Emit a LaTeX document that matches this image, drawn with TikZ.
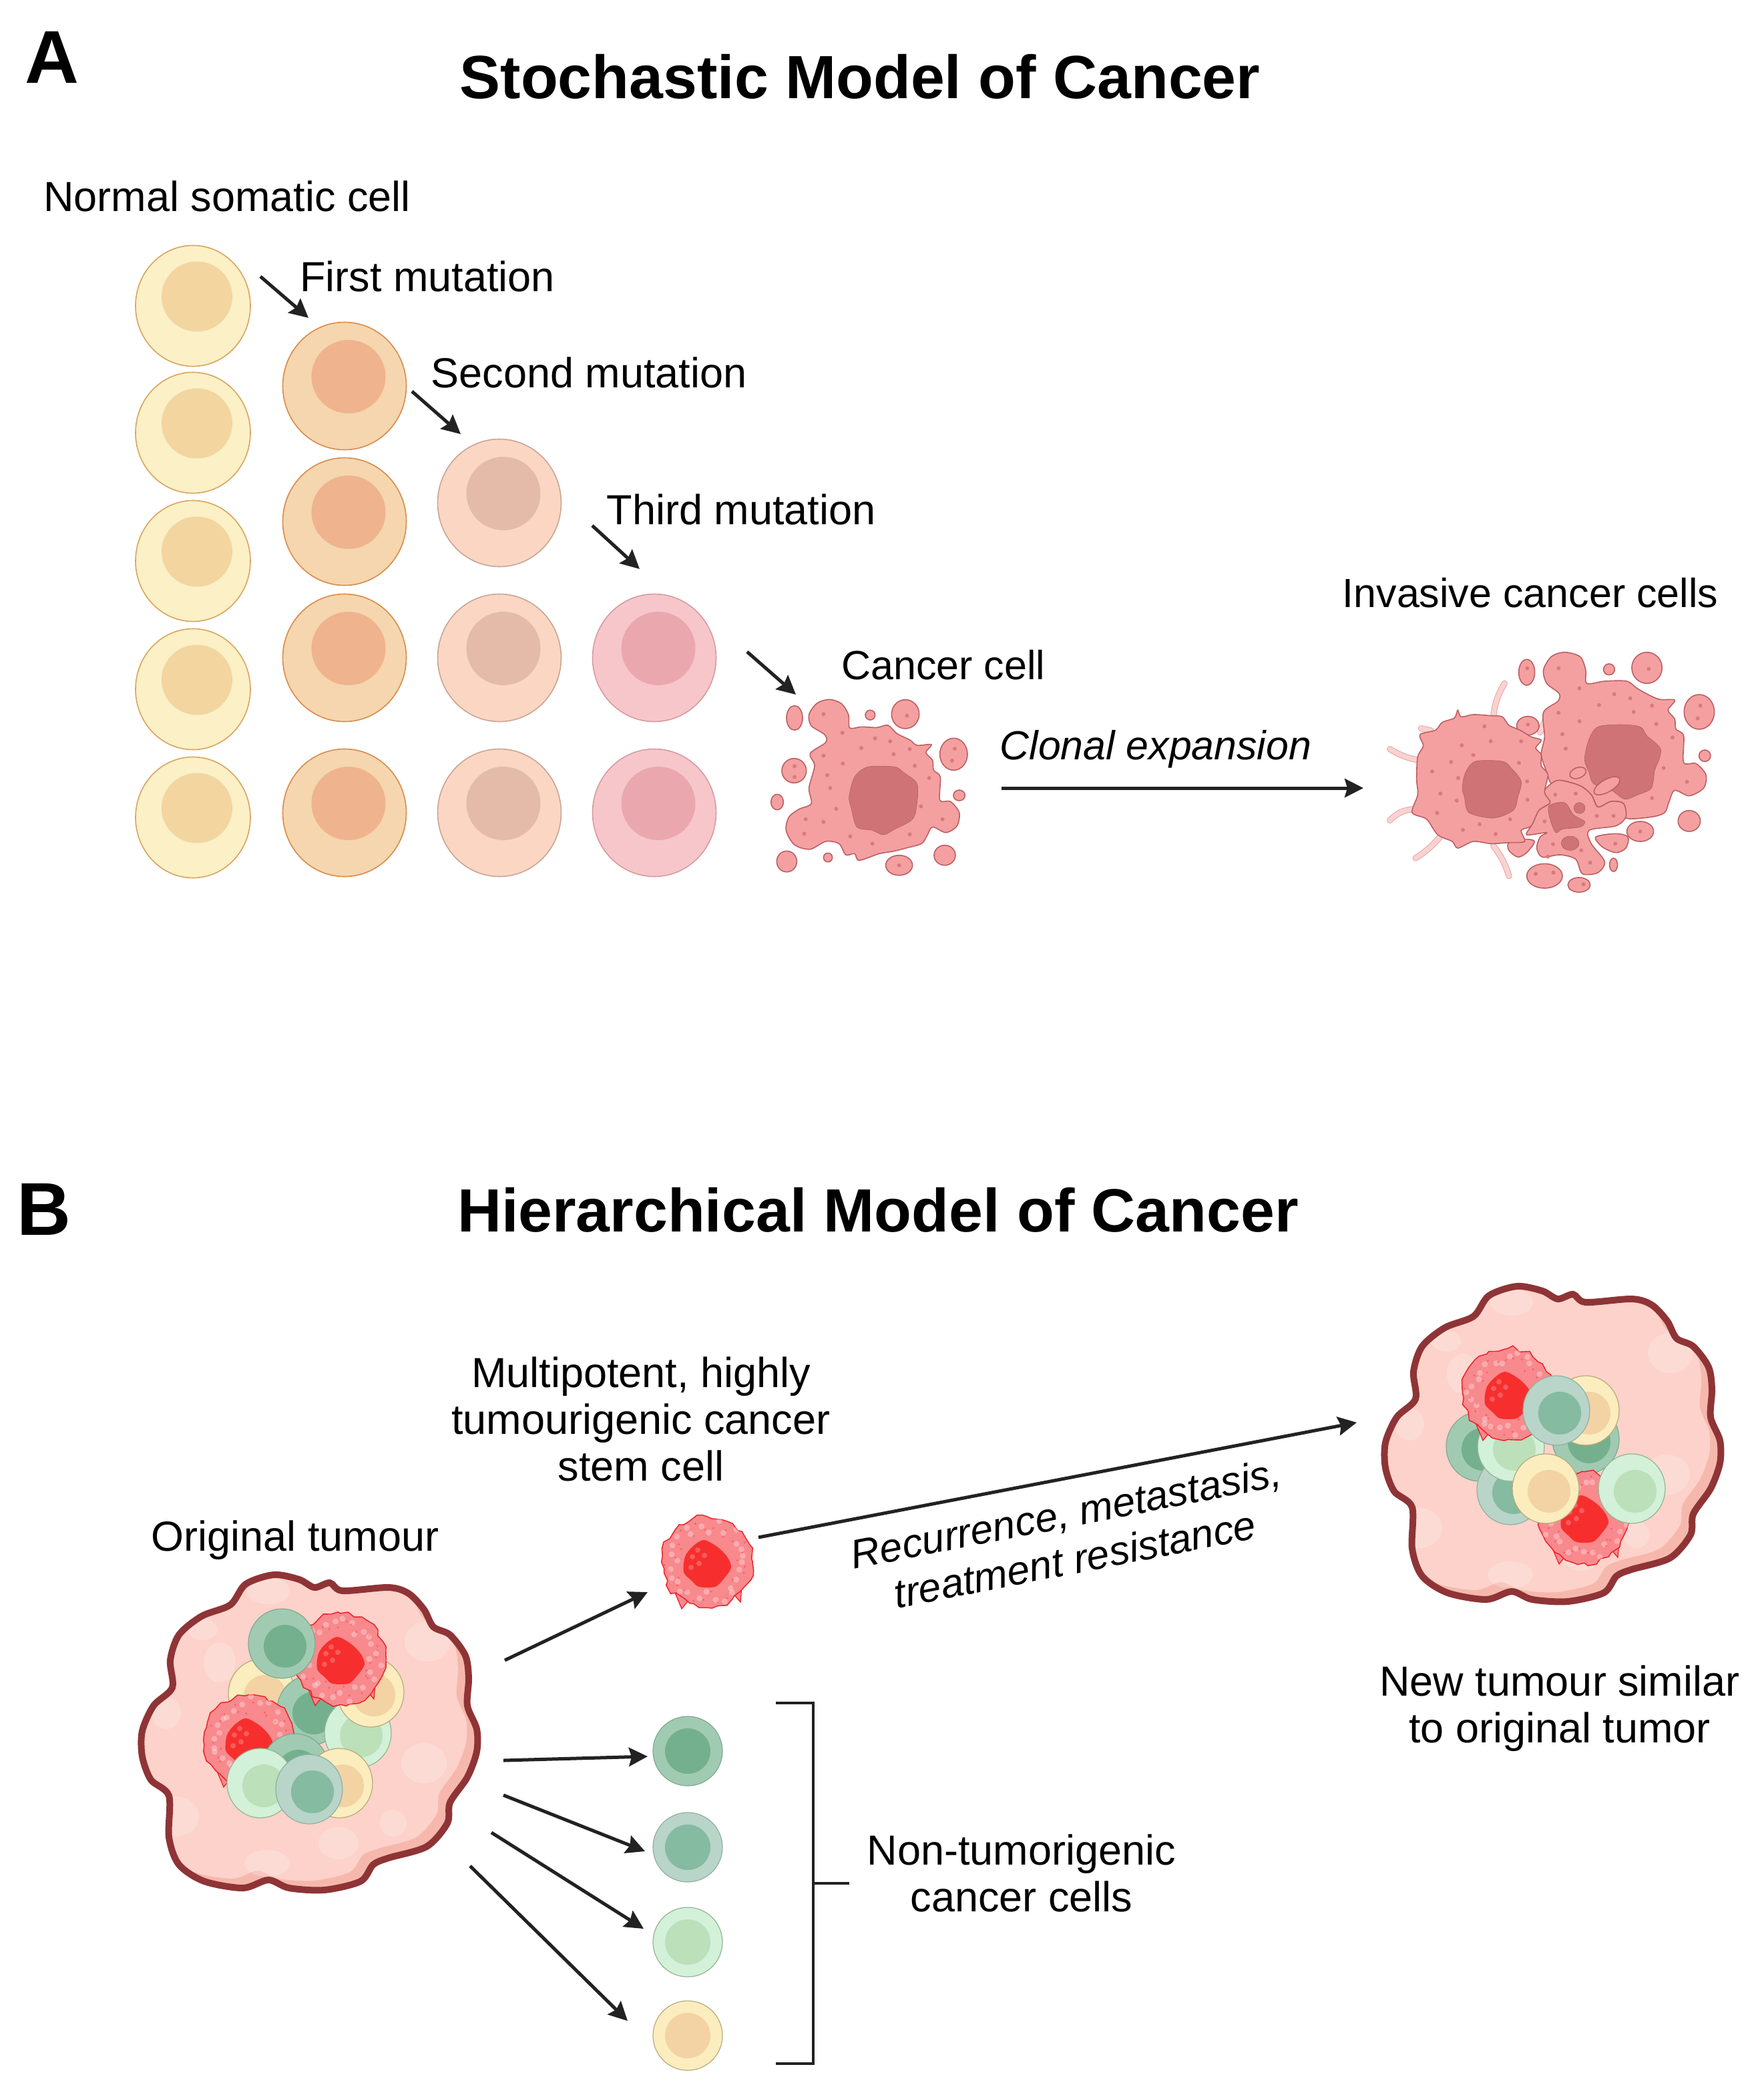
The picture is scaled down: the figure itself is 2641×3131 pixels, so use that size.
\documentclass[tikz,border=0pt]{standalone}
\usepackage{fontspec}
\setmainfont{Liberation Sans}
\usetikzlibrary{arrows.meta,shapes.geometric,decorations.pathmorphing}

% cell colours
\definecolor{yelF}{HTML}{FBF0C6}\definecolor{yelE}{HTML}{D9A45E}\definecolor{yelN}{HTML}{F3D59F}
\definecolor{orgF}{HTML}{F5D6AE}\definecolor{orgE}{HTML}{DA8A4A}\definecolor{orgN}{HTML}{EFB48D}
\definecolor{skinF}{HTML}{FAD6C3}\definecolor{skinE}{HTML}{C9A595}\definecolor{skinN}{HTML}{E4BBA8}
\definecolor{rosF}{HTML}{F6C6CA}\definecolor{rosE}{HTML}{D99A9E}\definecolor{rosN}{HTML}{EAA8AE}
\definecolor{cancF}{HTML}{F4A0A0}\definecolor{cancE}{HTML}{BC5F64}\definecolor{cancN}{HTML}{CF7376}\definecolor{cancD}{HTML}{D87A7E}
\definecolor{tendF}{HTML}{FAD2D0}\definecolor{tendE}{HTML}{E3A5A5}
\definecolor{tumF}{HTML}{FCD2CA}\definecolor{tumD}{HTML}{F6B8AD}\definecolor{tumE}{HTML}{8F3436}
\definecolor{redF}{HTML}{F8898D}\definecolor{redE}{HTML}{EE1C25}\definecolor{redN}{HTML}{F62F2E}
\definecolor{dgF}{HTML}{A0CBB2}\definecolor{dgE}{HTML}{7FA98F}\definecolor{dgN}{HTML}{74B08E}
\definecolor{ggF}{HTML}{B9D4C8}\definecolor{ggE}{HTML}{8FB0A0}\definecolor{ggN}{HTML}{85BBA0}
\definecolor{lgF}{HTML}{D3F0D8}\definecolor{lgE}{HTML}{93B590}\definecolor{lgN}{HTML}{BBE0BA}
\definecolor{ylF}{HTML}{FBEDBE}\definecolor{ylE}{HTML}{B8A97A}\definecolor{ylN}{HTML}{F3D3A3}
\definecolor{ink}{HTML}{222222}

\newcommand\tumourpath{plot[smooth cycle] coordinates {(410,2358)(448,2365)(471,2377)(494,2370)(513,2382)(582,2377)(612,2386)(635,2410)(649,2436)(674,2448)(697,2479)(702,2513)(700,2554)(714,2589)(714,2623)(700,2661)(674,2699)(670,2730)(639,2765)(582,2782)(559,2792)(540,2817)(486,2830)(433,2827)(402,2815)(364,2827)(306,2817)(268,2792)(253,2751)(253,2689)(226,2665)(213,2630)(213,2592)(230,2554)(258,2527)(255,2486)(268,2448)(302,2420)(345,2403)(368,2372)}}

\tikzset{
  lab/.style={font=\fontsize{31.5}{35}\selectfont,align=center,text=black,inner sep=0},
  labsm/.style={lab,font=\fontsize{30.5}{35}\selectfont},
  ital/.style={lab,font=\fontsize{30.4}{35}\selectfont\itshape},
  titlelab/.style={font=\fontsize{45.7}{50}\selectfont\bfseries,text=black,inner sep=0},
  letter/.style={font=\fontsize{56}{60}\selectfont\bfseries,text=black,inner sep=0},
  arr/.style={draw=ink,line width=2.5pt,-{Stealth[length=14pt,width=14pt,inset=2pt]}},
  % large cells
  bigcell/.style={ellipse,inner sep=0,minimum width=92.5pt,minimum height=95.5pt,line width=.8pt},
  bignuc/.style={ellipse,inner sep=0,minimum width=55.5pt,minimum height=55pt,draw=none},
  cellY/.style={bigcell,minimum width=86pt,minimum height=90.5pt,draw=yelE,fill=yelF},
  nucY/.style={bignuc,minimum width=53pt,minimum height=52.5pt,fill=yelN},
  cellO/.style={bigcell,draw=orgE,fill=orgF}, nucO/.style={bignuc,fill=orgN},
  cellS/.style={bigcell,draw=skinE,fill=skinF}, nucS/.style={bignuc,fill=skinN},
  cellR/.style={bigcell,draw=rosE,fill=rosF}, nucR/.style={bignuc,fill=rosN},
  % cancer cells
  cancbody/.style={draw=cancE,fill=cancF,line width=.8pt},
  cancnuc/.style={fill=cancN,draw=cancN!85!black,line width=.3pt},
  tendril/.style={draw=tendE,double=tendF,double distance=3.6pt,line width=.5pt,line cap=round},
  % small cells
  smallcell/.style={ellipse,inner sep=0,minimum width=50pt,minimum height=52pt,line width=.6pt},
  smallnuc/.style={ellipse,inner sep=0,minimum width=32pt,minimum height=32pt,draw=none},
  cellD/.style={smallcell,draw=dgE,fill=dgF}, nucD/.style={smallnuc,fill=dgN},
  cellG/.style={smallcell,draw=ggE,fill=ggF}, nucG/.style={smallnuc,fill=ggN},
  cellL/.style={smallcell,draw=lgE,fill=lgF}, nucL/.style={smallnuc,fill=lgN},
  cellW/.style={smallcell,draw=ylE,fill=ylF}, nucW/.style={smallnuc,fill=ylN},
  % spiky stem cell
  redcell/.pic={
    \draw[draw=redE,fill=redF,line width=.6pt] (38,46) -- (50,60) -- (52,36) -- cycle;
    \draw[draw=redE,fill=redF,line width=.6pt] (-26,55) -- (-38,70) -- (-48,46) -- cycle;
    \draw[draw=redE,fill=redF,line width=.7pt,decorate,decoration={random steps,segment length=5pt,amplitude=2pt}] (0,0) ellipse (68 and 68);
    \foreach \a in {0,13,...,359} {
      \fill[white,opacity=.3] (\a:{42+24*rnd}) circle (4.5);
      \fill[redE!60!redF,opacity=.6] (\a+6:{40+26*rnd}) circle (1.6);
    }
    \fill[redN] plot[smooth cycle] coordinates {(-5,-33)(15,-23)(30,-8)(36,8)(25,25)(12,37)(-12,37)(-23,28)(-35,15)(-33,-8)(-22,-23)};
    \foreach \x/\y in {-22/-8,-14/-18,-24/8,-12/2,-4/-10}
      \fill[white,opacity=.22] (\x,\y) circle (4);
  },
  tumour/.pic={
    \begin{scope}
      \clip \tumourpath;
      \fill[tumD] (180,2320) rectangle (760,2860);
      \begin{scope}[shift={(-16,-14)}]
        \fill[tumF] \tumourpath;
      \end{scope}
      \foreach \x/\y/\a/\b in {402/2382/32/20,329/2489/24/30,249/2565/22/24,304/2440/22/16,589/2730/20/20,507/2760/30/24,635/2640/34/30,640/2458/34/30,262/2720/36/30,400/2790/34/20}
        \fill[white,opacity=.22] (\x,\y) ellipse [x radius=\a,y radius=\b];
    \end{scope}
    \draw[tumE,line width=5pt] \tumourpath;
  }
}

\begin{document}
\begin{tikzpicture}[x=.5pt,y=-.5pt]
\pgfmathsetseed{11}
\useasboundingbox (0,0) rectangle (2641,3131);
\fill[white] (0,0) rectangle (2641,3131);

% Panel titles
\node[letter] (panelA) at (78,86) {A};
\node[letter] (panelB) at (66,1811) {B};
\node[titlelab] (titleA) at (1288,115) {Stochastic Model of Cancer};
\node[titlelab] (titleB) at (1315,1812) {Hierarchical Model of Cancer};

% Mutation columns
\foreach \i/\y in {1/458,2/648,3/840,4/1032,5/1224} {
  \node[cellY] (a\i) at (289,\y) {};
  \node[nucY] at ([shift={(6,-14)}]a\i) {};
}
\foreach \i/\y in {1/578,2/781,3/985,4/1217} {
  \node[cellO] (b\i) at (516,\y) {};
  \node[nucO] at ([shift={(6,-14)}]b\i) {};
}
\foreach \i/\y in {1/753,2/985,3/1217} {
  \node[cellS] (c\i) at (748,\y) {};
  \node[nucS] at ([shift={(6,-14)}]c\i) {};
}
\foreach \i/\y in {1/985,2/1217} {
  \node[cellR] (d\i) at (980,\y) {};
  \node[nucR] at ([shift={(6,-14)}]d\i) {};
}

% Cancer cell
\begin{scope}[shift={(1140,1030)},scale=.3333]
\draw[cancbody] plot[smooth cycle] coordinates {(305,52)(360,70)(392,120)(398,180)(450,175)(520,178)(570,168)(610,205)(670,235)(700,258)(765,255)(740,290)(770,325)(775,370)(805,400)(803,505)(850,510)(890,560)(880,620)(830,650)(770,625)(745,665)(720,700)(650,720)(590,735)(530,745)(440,775)(420,745)(380,750)(350,700)(290,690)(220,725)(150,705)(112,640)(125,580)(170,545)(225,520)(215,450)(240,350)(220,295)(290,245)(285,210)(225,170)(215,120)(250,70)};
\fill[cancnuc] plot[smooth cycle] coordinates {(480,355)(600,355)(640,380)(700,430)(700,520)(680,590)(600,635)(550,660)(500,640)(430,625)(405,540)(395,490)(420,400)};
\foreach \x/\y/\a/\b in {150/135/36/55,490/122/22/22,648/118/62/65,865/298/62/72,148/372/55/55,890/483/26/24,72/513/28/35,115/780/45/47,300/762/20/20,620/797/60/45,825/752/48/45}
  \draw[cancbody] (\x,\y) ellipse [x radius=\a,y radius=\b];
\foreach \x/\y in {280/118,365/202,512/227,450/270,580/240,668/275,595/298,280/305,367/340,690/350,297/392,755/405,310/450,337/543,718/532,200/590,280/602,815/590,193/655,400/667,668/658,500/700,150/352,150/400,870/273,858/327,655/125,620/797}
  \fill[cancD] (\x,\y) circle (9);
\end{scope}

% Invasive cells
\begin{scope}[shift={(2060,960)},scale=.3333]
\draw[tendril] (580,190) to[bend right=12] (530,340);
\draw[tendril] (205,392) -- (250,402);
\draw[tendril] (65,485) to[bend right=10] (195,535);
\draw[tendril] (65,805) to[bend left=20] (170,755);
\draw[tendril] (180,975) to[bend right=8] (290,880);
\draw[tendril] (600,1055) to[bend right=10] (530,920);
\draw[tendril] (770,340) -- (740,410);
\draw[cancbody] plot[smooth cycle] coordinates {(600,905)(670,890)(715,900)(680,950)(640,970)(600,940)};
\draw[cancbody] plot[smooth cycle] coordinates {(850,50)(920,70)(945,130)(950,190)(1030,180)(1130,180)(1180,215)(1270,260)(1345,265)(1315,310)(1345,350)(1350,395)(1385,425)(1385,545)(1440,550)(1485,600)(1475,660)(1410,695)(1345,670)(1320,720)(1300,770)(1240,790)(1125,795)(1115,730)(1060,720)(1000,745)(970,690)(920,650)(830,625)(790,640)(770,590)(745,510)(760,430)(755,320)(820,270)(825,235)(770,190)(755,130)(790,70)};
\fill[cancnuc] plot[smooth cycle] coordinates {(1000,385)(1100,375)(1190,385)(1220,425)(1280,480)(1275,530)(1255,580)(1240,660)(1180,690)(1120,710)(1060,670)(980,640)(960,590)(940,530)(960,440)};
\draw[cancbody,rotate around={30:(1040,650)}] (1040,650) ellipse (65 and 28);
\draw[cancbody,rotate around={20:(910,592)}] (910,592) ellipse (38 and 24);
\draw[cancbody] plot[smooth cycle] coordinates {(830,625)(920,650)(970,690)(1000,745)(1060,720)(1115,730)(1125,790)(1080,830)(960,850)(970,910)(1030,990)(1000,1040)(930,1045)(900,980)(830,960)(750,970)(725,930)(740,880)(770,860)(680,870)(700,830)(735,760)(785,725)(755,680)(790,640)};
\fill[cancnuc] plot[smooth cycle] coordinates {(780,740)(850,725)(890,780)(940,810)(920,835)(840,845)(810,860)(785,800)};
\fill[cancnuc] (917,750) circle (25);
\fill[cancnuc] (875,908) ellipse (40 and 32);
\foreach \x/\y/\a/\b in {680/140/36/58,1050/127/25/25,1220/120/68/70,1455/318/68/78,1480/515/26/26,1410/808/50/47,1190/855/60/45,1070/1005/18/30,760/1055/80/55,915/1095/50/33,685/380/50/42}
  \draw[cancbody] (\x,\y) ellipse [x radius=\a,y radius=\b];
\draw[cancbody] plot[smooth cycle] coordinates {(990,880)(1080,865)(1135,880)(1125,930)(1080,950)(1020,925)};
\draw[cancbody] plot[smooth cycle] coordinates {(370,310)(385,340)(440,330)(520,335)(570,340)(600,378)(650,400)(700,430)(745,445)(720,480)(745,510)(745,560)(775,600)(760,680)(785,725)(735,760)(700,830)(655,850)(670,900)(600,905)(520,910)(440,900)(370,930)(345,900)(280,870)(230,800)(165,770)(190,690)(185,620)(190,520)(215,470)(200,420)(270,400)(300,365)(355,345)};
\fill[cancnuc] plot[smooth cycle] coordinates {(450,540)(570,540)(610,570)(655,630)(640,700)(620,760)(530,795)(420,770)(400,700)(390,660)(405,590)};
\foreach \x/\y in {823/122,917/212,1073/238,1005/287,1145/257,1243/290,1160/318,823/322,917/360,1262/372,840/418,1335/433,855/483,1295/570,1400/632,1243/705,1070/785,995/785,900/685,808/690,760/810,925/940,775/968,798/912,965/995,1078/910,1190/855,720/1045,800/1040,935/1092,682/122,1228/125,1460/290,1448/347,685/375,490/383,518/450,388/468,440/512,340/543,645/547,255/585,372/615,682/630,292/685,365/717,683/713,277/772,468/823,393/848,540/867,605/800,655/450}
  \fill[cancD] (\x,\y) circle (9);
\end{scope}

% Tumours
\pic (tumL) at (0,0) {tumour};
\pic (tumR) at (1862,-432) {tumour};

% Cells in original tumour
\foreach \k/\n/\x/\y in {W/la/392/2536,D/lb/465/2561,L/lc/536/2595,W/ld/555/2534} {
  \node[cell\k] (\n) at (\x,\y) {};
  \node[nuc\k] at ([shift={(5,4)}]\n) {};
}
\pic (redL1) at (510,2484) {redcell};
\foreach \k/\n/\x/\y in {D/le/422/2461} {
  \node[cell\k] (\n) at (\x,\y) {};
  \node[nuc\k] at ([shift={(5,4)}]\n) {};
}
\pic (redL2) at (373,2606) {redcell};
\foreach \k/\n/\x/\y in {D/lf/442/2648,W/lg/508/2670,L/lh/390/2670,G/li/463/2679} {
  \node[cell\k] (\n) at (\x,\y) {};
  \node[nuc\k] at ([shift={(5,4)}]\n) {};
}

% Cells in new tumour
\foreach \k/\n/\x/\y in {D/ra/2216/2166,G/rb/2262/2231,D/rc/2375/2155,L/rd/2263/2166} {
  \node[cell\k] (\n) at (\x,\y) {};
  \node[nuc\k] at ([shift={(5,4)}]\n) {};
}
\pic (redR1) at (2259,2087) {redcell};
\foreach \k/\n/\x/\y in {W/re/2375/2112,G/rf/2331/2112} {
  \node[cell\k] (\n) at (\x,\y) {};
  \node[nuc\k] at ([shift={(5,4)}]\n) {};
}
\pic (redR2) at (2373,2272) {redcell};
\foreach \k/\n/\x/\y in {W/rg/2315/2229,L/rh/2444/2229} {
  \node[cell\k] (\n) at (\x,\y) {};
  \node[nuc\k] at ([shift={(5,4)}]\n) {};
}

% Daughter cells
\pic (stem) at (1059,2339) {redcell};
\foreach \k/\n/\y in {D/sa/2622,G/sb/2766,L/sc/2908,W/sd/3048} {
  \node[cell\k,minimum width=52pt,minimum height=52pt] (\n) at (1030,\y) {};
  \node[nuc\k,minimum width=34pt,minimum height=34pt] at (\n) {};
}

% Arrows
\foreach \n/\xa/\ya/\xb/\yb in {m1/390/414/462/476,m2/617/586/690/650,m3/887/787/958/852,m4/1119/976/1192/1040,
    ex/1500/1180/2042/1180,rc/1136/2302/2032/2130,st/756/2486/970/2384,
    pa/754/2636/970/2630,pb/754/2688/966/2772,pc/736/2744/964/2888,pd/704/2794/940/3026} {
  \coordinate (\n s) at (\xa,\ya);
  \coordinate (\n e) at (\xb,\yb);
  \draw[arr] (\n s) -- (\n e);
}

% Bracket
\coordinate (brT) at (1162,2550);
\coordinate (brU) at (1218,2550);
\coordinate (brV) at (1218,3090);
\coordinate (brB) at (1162,3090);
\coordinate (brM) at (1218,2820);
\coordinate (brE) at (1272,2820);
\draw[ink,line width=2.2pt] (brT) -- (brU) -- (brV) -- (brB);
\draw[ink,line width=2.2pt] (brM) -- (brE);

% Labels
\node[lab] (lbNormal) at (340,294) {Normal somatic cell};
\node[lab] (lbFirst) at (640,414) {First mutation};
\node[lab] (lbSecond) at (882,558) {Second mutation};
\node[lab] (lbThird) at (1110,763) {Third mutation};
\node[labsm] (lbCancer) at (1413,996) {Cancer cell};
\node[labsm] (lbInvasive) at (2292,888) {Invasive cancer cells};
\node[ital] (lbClonal) at (1731,1122) {Clonal expansion};
\node[lab] (lbStem) at (960,2125) {Multipotent, highly\\tumourigenic cancer\\stem cell};
\node[lab] (lbOriginal) at (442,2306) {Original tumour};
\node[ital,rotate=11] (lbRecur) at (1603,2300) {Recurrence, metastasis,\\treatment resistance};
\node[lab] (lbNew) at (2336,2558) {New tumour similar\\to original tumor};
\node[lab] (lbNon) at (1530,2805) {Non-tumorigenic\\cancer cells};
\end{tikzpicture}
\end{document}
